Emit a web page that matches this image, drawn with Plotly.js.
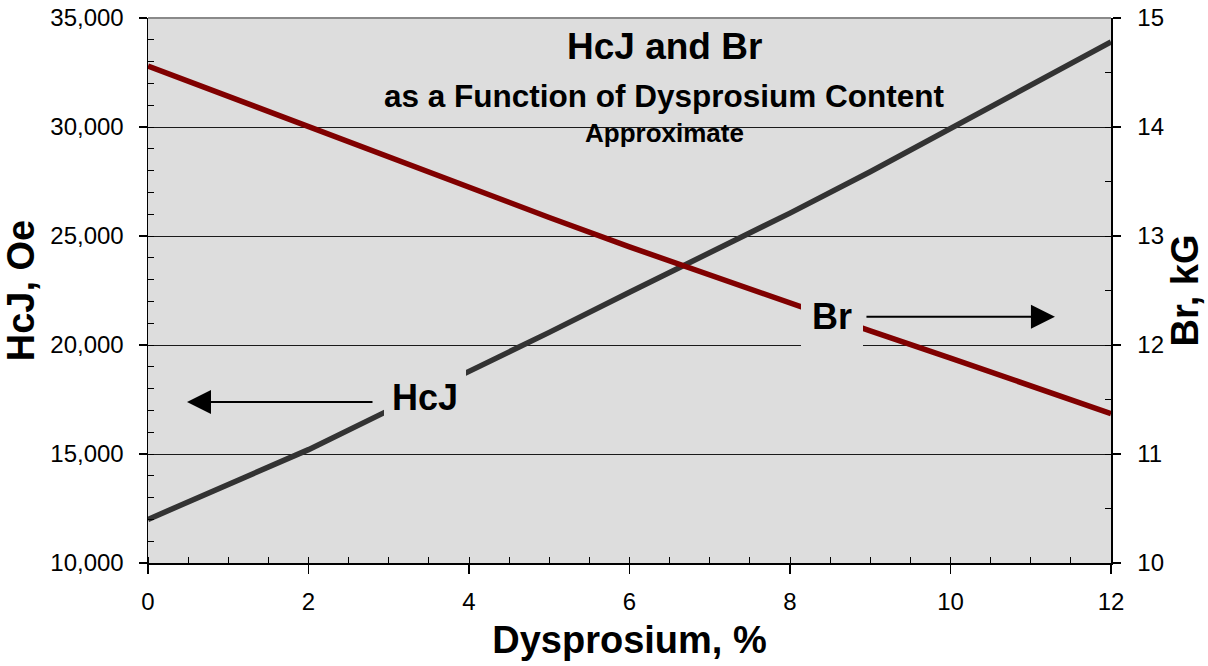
<!DOCTYPE html>
<html>
<head>
<meta charset="utf-8">
<script src="https://cdn.plot.ly/plotly-3.0.1.min.js"></script>
<style>
  html, body { margin: 0; padding: 0; background: #ffffff; }
  #chart { width: 1208px; height: 666px; }
</style>
</head>
<body>
<div id="chart"></div>
<script>
// Dysprosium content, %
const dysprosium = [0, 1, 2, 3, 4, 5, 6, 7, 8, 9, 10, 11, 12];
// HcJ, Oe (left axis)
const hcjValues = [12000, 13580, 15200, 17000, 18780, 20580, 22420, 24230, 26050, 27950, 29940, 31920, 33900];
// Br, kG (right axis)
const brValues = [14.56, 14.28, 14.00, 13.72, 13.44, 13.17, 12.90, 12.64, 12.38, 12.13, 11.88, 11.62, 11.37];

const titleMain = 'HcJ and Br';
const titleSub = 'as a Function of Dysprosium Content';
const titleNote = 'Approximate';
const xTitle = 'Dysprosium, %';
const yTitle = 'HcJ, Oe';
const y2Title = 'Br, kG';
const labelHcJ = 'HcJ';
const labelBr = 'Br';

const FONT = 'Liberation Sans, Arial, Helvetica, sans-serif';
const BG = '#dddddd';

const traces = [
  {
    x: dysprosium, y: hcjValues, yaxis: 'y', type: 'scatter', mode: 'lines',
    line: { color: '#333333', width: 5.5 }, name: 'HcJ', hoverinfo: 'skip'
  },
  {
    x: dysprosium, y: brValues, yaxis: 'y2', type: 'scatter', mode: 'lines',
    line: { color: '#800000', width: 5.5 }, name: 'Br', hoverinfo: 'skip'
  }
];

const axisCommon = {
  showline: true, linecolor: '#000000', linewidth: 1.5,
  ticks: 'outside', ticklen: 8, tickwidth: 1.5, tickcolor: '#000000',
  zeroline: false, automargin: false,
  tickfont: { family: FONT, size: 24, color: '#000000' }
};

const layout = {
  width: 1208, height: 666, autosize: false,
  margin: { l: 148, r: 97, t: 18, b: 103, pad: 0 },
  paper_bgcolor: '#ffffff', plot_bgcolor: BG,
  showlegend: false,
  font: { family: FONT, color: '#000000' },
  xaxis: Object.assign({}, axisCommon, {
    range: [0, 12], tick0: 0, dtick: 2, showgrid: false,
    ticklen: 9, ticklabelstandoff: 8,
    minor: { dtick: 0.5, ticks: 'inside', ticklen: 6, tickwidth: 1, tickcolor: '#000000', showgrid: false },
    title: { text: xTitle, font: { family: FONT, size: 38, weight: 'bold', color: '#000000' }, standoff: 12 }
  }),
  yaxis: Object.assign({}, axisCommon, {
    range: [10000, 35000], tick0: 10000, dtick: 5000, tickformat: ',d',
    showgrid: true, gridcolor: '#1a1a1a', gridwidth: 1,
    ticklabelstandoff: 10,
    minor: { dtick: 1000, ticks: 'inside', ticklen: 6, tickwidth: 1, tickcolor: '#000000', showgrid: false },
    title: { text: yTitle, font: { family: FONT, size: 38, weight: 'bold', color: '#000000' }, standoff: 8 }
  }),
  yaxis2: Object.assign({}, axisCommon, {
    overlaying: 'y', side: 'right',
    range: [10, 15], tick0: 10, dtick: 1, showgrid: false,
    ticklabelstandoff: 12,
    minor: { dtick: 0.5, ticks: 'inside', ticklen: 6, tickwidth: 1, tickcolor: '#000000', showgrid: false },
    title: { text: y2Title, font: { family: FONT, size: 38, weight: 'bold', color: '#000000' }, standoff: 6 }
  }),
  shapes: [
    { type: 'line', xref: 'paper', yref: 'paper', x0: 0, x1: 1, y0: 1, y1: 1,
      line: { color: '#8a8a8a', width: 2 }, layer: 'above' }
  ],
  annotations: [
    { xref: 'paper', yref: 'paper', x: 0.536, y: 0.947, xanchor: 'center', yanchor: 'middle',
      text: titleMain, showarrow: false,
      font: { family: FONT, size: 37, weight: 'bold', color: '#000000' } },
    { xref: 'paper', yref: 'paper', x: 0.536, y: 0.857, xanchor: 'center', yanchor: 'middle',
      text: titleSub, showarrow: false,
      font: { family: FONT, size: 31.5, weight: 'bold', color: '#000000' } },
    { xref: 'paper', yref: 'paper', x: 0.536, y: 0.789, xanchor: 'center', yanchor: 'middle',
      text: titleNote, showarrow: false,
      font: { family: FONT, size: 26, weight: 'bold', color: '#000000' } },
    // arrows
    { xref: 'paper', yref: 'paper', x: 0.0405, y: 0.2954, ax: 187, ay: 0,
      text: '', showarrow: true, arrowhead: 2, arrowsize: 2.4, arrowwidth: 2, arrowcolor: '#000000', standoff: 0 },
    { xref: 'paper', yref: 'paper', x: 0.9418, y: 0.4519, ax: -190, ay: 0,
      text: '', showarrow: true, arrowhead: 2, arrowsize: 2.4, arrowwidth: 2, arrowcolor: '#000000', standoff: 0 },
    // series labels
    { xref: 'paper', yref: 'paper', x: 0.2876, y: 0.3028, xanchor: 'center', yanchor: 'middle',
      text: labelHcJ, showarrow: false, bgcolor: BG, borderpad: 8, borderwidth: 0,
      font: { family: FONT, size: 36, weight: 'bold', color: '#000000' } },
    { xref: 'paper', yref: 'paper', x: 0.7103, y: 0.4532, xanchor: 'center', yanchor: 'middle',
      text: labelBr, showarrow: false, bgcolor: BG, borderpad: 11, borderwidth: 0,
      font: { family: FONT, size: 36, weight: 'bold', color: '#000000' } }
  ]
};

Plotly.newPlot('chart', traces, layout, { staticPlot: true, displayModeBar: false });
</script>
</body>
</html>
